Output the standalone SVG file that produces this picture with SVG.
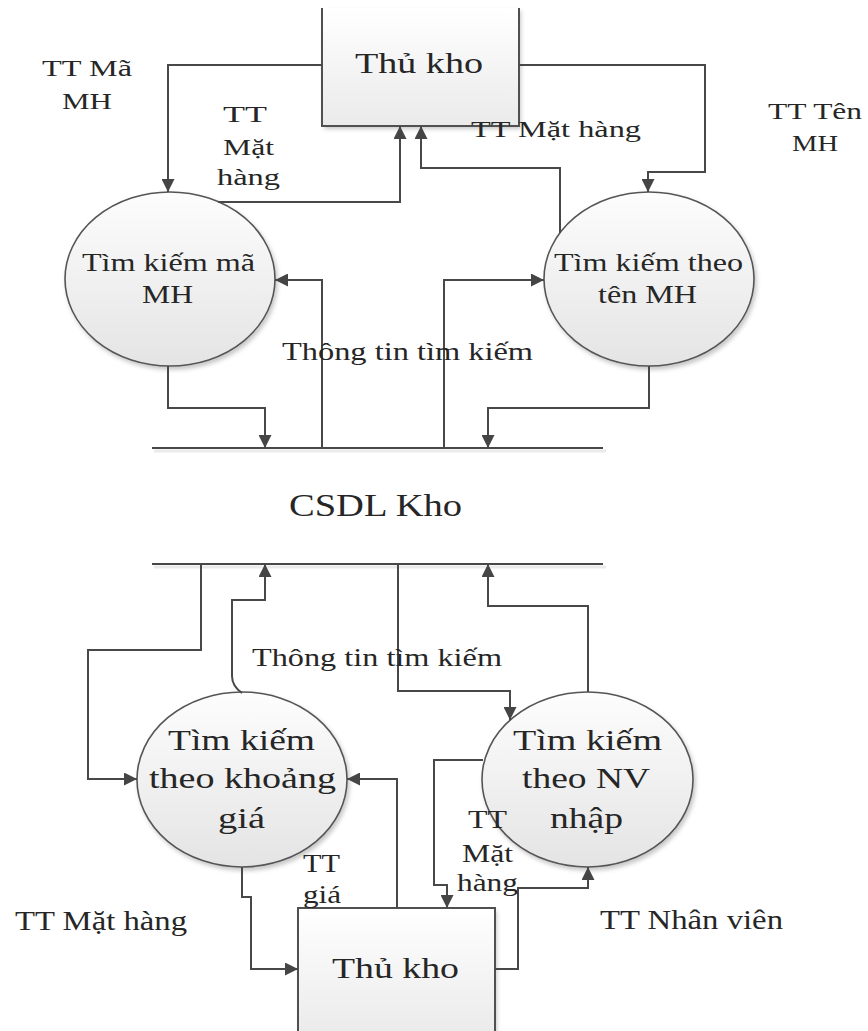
<svg xmlns="http://www.w3.org/2000/svg" width="868" height="1031" viewBox="0 0 868 1031">
  <defs>
    <linearGradient id="gEllipse" x1="0" y1="0" x2="0" y2="1">
      <stop offset="0" stop-color="#fdfdfd"/>
      <stop offset="1" stop-color="#e4e4e4"/>
    </linearGradient>
    <linearGradient id="gBox" x1="0" y1="0" x2="0" y2="1">
      <stop offset="0" stop-color="#ffffff"/>
      <stop offset="1" stop-color="#eaeaea"/>
    </linearGradient>
    <filter id="shadow" x="-10%" y="-10%" width="125%" height="125%">
      <feDropShadow dx="2" dy="3" stdDeviation="2" flood-color="#000" flood-opacity="0.22"/>
    </filter>
    <marker id="arrow" markerUnits="userSpaceOnUse" markerWidth="13" markerHeight="13" refX="13" refY="6.5" orient="auto">
      <path d="M0,0 L13,6.5 L0,13 z" fill="#454545"/>
    </marker>
    <style>
      .edge-a { fill: none; stroke: #484848; stroke-width: 2; marker-end: url(#arrow); }
      .proc { fill: url(#gEllipse); stroke: #555; stroke-width: 1.6; filter: url(#shadow); }
      .box { fill: url(#gBox); filter: url(#shadow); }
      .box-edge { fill: none; stroke: #505050; stroke-width: 2; }
      .store { stroke: #484848; stroke-width: 2; }
      .store-shade { stroke: #000; stroke-opacity: 0.08; stroke-width: 3; }
      text { font-family: "Liberation Serif", "Times New Roman", serif; fill: #262626; }
      .t24 { font-size: 24px; }
      .t26 { font-size: 26px; }
      .t27 { font-size: 27px; }
      .t30 { font-size: 30px; }
      .t32 { font-size: 32px; }
    </style>
  </defs>

  <!-- data store: CSDL Kho -->
  <g id="store-csdl-kho">
    <line class="store-shade" x1="154" y1="451" x2="606" y2="451"/>
    <line class="store-shade" x1="154" y1="567" x2="606" y2="567"/>
    <line class="store" x1="152" y1="448" x2="603" y2="448"/>
    <line class="store" x1="152" y1="564" x2="603" y2="564"/>
    <text class="t32" x="289" y="516" textLength="173" lengthAdjust="spacingAndGlyphs">CSDL Kho</text>
  </g>

  <!-- external entity: Thủ kho (top) -->
  <g id="entity-thu-kho-top">
    <rect class="box" x="322" y="8" width="197" height="118"/>
    <path class="box-edge" d="M322,8 V126 H519 V8"/>
    <text class="t30" x="355" y="73" textLength="128" lengthAdjust="spacingAndGlyphs">Thủ kho</text>
  </g>

  <!-- external entity: Thủ kho (bottom) -->
  <g id="entity-thu-kho-bottom">
    <rect class="box" x="298" y="908" width="197" height="130"/>
    <path class="box-edge" d="M298,1031 V908 H495 V1031"/>
    <text class="t30" x="332" y="978" textLength="127" lengthAdjust="spacingAndGlyphs">Thủ kho</text>
  </g>

  <!-- process: search by item code -->
  <g id="proc-tim-kiem-ma-mh">
    <ellipse class="proc" cx="170" cy="279" rx="105" ry="87"/>
    <text class="t26" x="82" y="271" textLength="173" lengthAdjust="spacingAndGlyphs">Tìm kiếm mã</text>
    <text class="t26" x="142" y="303" textLength="51" lengthAdjust="spacingAndGlyphs">MH</text>
  </g>

  <!-- process: search by item name -->
  <g id="proc-tim-kiem-ten-mh">
    <ellipse class="proc" cx="649" cy="279" rx="105" ry="87"/>
    <text class="t26" x="554" y="271" textLength="189" lengthAdjust="spacingAndGlyphs">Tìm kiếm theo</text>
    <text class="t26" x="598" y="303" textLength="99" lengthAdjust="spacingAndGlyphs">tên MH</text>
  </g>

  <!-- process: search by price range -->
  <g id="proc-tim-kiem-khoang-gia">
    <ellipse class="proc" cx="242" cy="779.5" rx="105" ry="87.5"/>
    <text class="t30" x="168" y="750" textLength="147" lengthAdjust="spacingAndGlyphs">Tìm kiếm</text>
    <text class="t30" x="149" y="788" textLength="187" lengthAdjust="spacingAndGlyphs">theo khoảng</text>
    <text class="t30" x="218" y="828" textLength="47" lengthAdjust="spacingAndGlyphs">giá</text>
  </g>

  <!-- process: search by receiving employee -->
  <g id="proc-tim-kiem-nv-nhap">
    <ellipse class="proc" cx="587.5" cy="779.5" rx="105.5" ry="87.5"/>
    <text class="t30" x="513" y="750" textLength="149" lengthAdjust="spacingAndGlyphs">Tìm kiếm</text>
    <text class="t30" x="522" y="788" textLength="128" lengthAdjust="spacingAndGlyphs">theo NV</text>
    <text class="t30" x="550" y="828" textLength="73" lengthAdjust="spacingAndGlyphs">nhập</text>
  </g>

  <!-- data flows -->
  <g id="connectors">
    <path class="edge-a" d="M322,65 H168 V192"/>
    <path class="edge-a" d="M218,202 H400 V126"/>
    <path class="edge-a" d="M560,233 V168 H421 V126"/>
    <path class="edge-a" d="M519,65 H705 V172 H648 V192"/>
    <path class="edge-a" d="M322,448 V280 H275"/>
    <path class="edge-a" d="M168,366 V408 H265 V448"/>
    <path class="edge-a" d="M444,448 V280 H544"/>
    <path class="edge-a" d="M649,366 V408 H488 V448"/>

    <path class="edge-a" d="M201,564 V650 H88 V779 H137"/>
    <path class="edge-a" d="M242,693 Q232,686 232,676 V600 H265 V564"/>
    <path class="edge-a" d="M398,564 V691 H510 V720"/>
    <path class="edge-a" d="M588,692 V606 H488 V564"/>
    <path class="edge-a" d="M397,908 V779 H347"/>
    <path class="edge-a" d="M242,867 V897 H251 V969 H298"/>
    <path class="edge-a" d="M483,760 H434 V885 H447 V908"/>
    <path class="edge-a" d="M495,969 H518 V888 H588 V867"/>
  </g>

  <!-- flow labels -->
  <g id="labels">
    <text class="t24" x="42" y="76" textLength="90" lengthAdjust="spacingAndGlyphs">TT Mã</text>
    <text class="t24" x="62" y="109" textLength="50" lengthAdjust="spacingAndGlyphs">MH</text>
    <text class="t24" x="223" y="122" textLength="44" lengthAdjust="spacingAndGlyphs">TT</text>
    <text class="t24" x="223" y="155" textLength="51" lengthAdjust="spacingAndGlyphs">Mặt</text>
    <text class="t24" x="217" y="185" textLength="63" lengthAdjust="spacingAndGlyphs">hàng</text>
    <text class="t24" x="471" y="137" textLength="170" lengthAdjust="spacingAndGlyphs">TT Mặt hàng</text>
    <text class="t24" x="768" y="119" textLength="94" lengthAdjust="spacingAndGlyphs">TT Tên</text>
    <text class="t24" x="792" y="151" textLength="46" lengthAdjust="spacingAndGlyphs">MH</text>
    <text class="t26" x="282" y="360" textLength="251" lengthAdjust="spacingAndGlyphs">Thông tin tìm kiếm</text>
    <text class="t26" x="252" y="666" textLength="250" lengthAdjust="spacingAndGlyphs">Thông tin tìm kiếm</text>
    <text class="t26" x="303" y="872" textLength="37" lengthAdjust="spacingAndGlyphs">TT</text>
    <text class="t26" x="303" y="903" textLength="38" lengthAdjust="spacingAndGlyphs">giá</text>
    <text class="t27" x="15" y="930" textLength="172" lengthAdjust="spacingAndGlyphs">TT Mặt hàng</text>
    <text class="t26" x="468" y="828" textLength="39" lengthAdjust="spacingAndGlyphs">TT</text>
    <text class="t26" x="462" y="862" textLength="51" lengthAdjust="spacingAndGlyphs">Mặt</text>
    <text class="t26" x="457" y="891" textLength="61" lengthAdjust="spacingAndGlyphs">hàng</text>
    <text class="t27" x="600" y="929" textLength="183" lengthAdjust="spacingAndGlyphs">TT Nhân viên</text>
  </g>
</svg>
